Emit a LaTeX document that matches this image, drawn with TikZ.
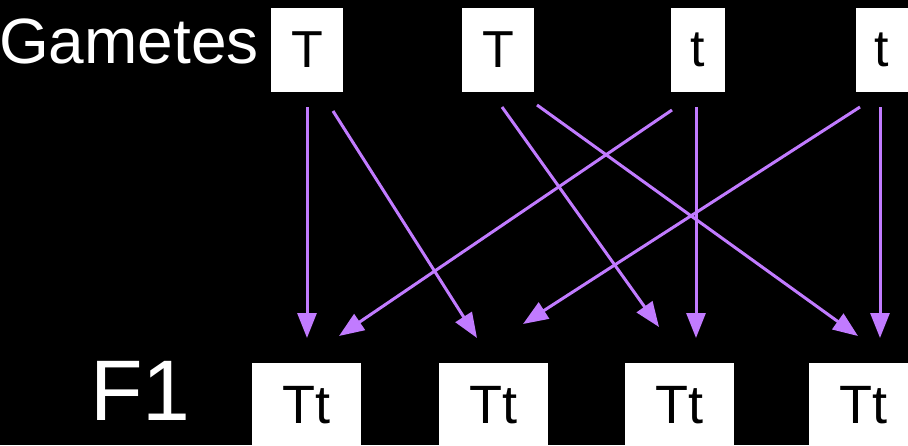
\documentclass[tikz,border=0pt]{standalone}
\usepackage{fontspec}
\setmainfont{Liberation Sans}
\usetikzlibrary{arrows.meta}
\definecolor{arr}{HTML}{C17BFF}
\begin{document}
\begin{tikzpicture}[x=1pt,y=-1pt,
  gbox/.style={fill=white,inner sep=0pt,minimum height=84pt,text=black,font=\fontsize{52}{52}\selectfont},
  fbox/.style={fill=white,inner sep=0pt,minimum width=109pt,minimum height=84pt,text=black,font=\fontsize{54}{54}\selectfont},
  link/.style={draw=arr,line width=3pt,-{Triangle[length=25pt,width=19pt]}},
  lbl/.style={text=white,inner sep=0pt,anchor=base west}]
\fill[black] (0,0) rectangle (908,445);
\useasboundingbox (0,0) rectangle (908,445);
\clip (0,0) rectangle (908,445);
% labels
\node[lbl,font=\fontsize{64}{64}\selectfont] (gam) at (-1,63) {Gametes};
\node[lbl,font=\fontsize{86}{86}\selectfont] (f1) at (90,420) {F1};
% gametes
\node[gbox,minimum width=72pt] (g1) at (307,50) {T};
\node[gbox,minimum width=72pt] (g2) at (498,50) {T};
\node[gbox,minimum width=54pt] (g3) at (698,50) {t};
\node[gbox,minimum width=52pt] (g4) at (882,50) {t};
% offspring
\node[fbox] (o1) at (306.5,405) {Tt};
\node[fbox] (o2) at (493.5,405) {Tt};
\node[fbox] (o3) at (679.5,405) {Tt};
\node[fbox] (o4) at (863.5,405) {Tt};
% connector ends
\coordinate (s1a) at (307,107);
\coordinate (s1b) at (333,111);
\coordinate (s2a) at (502,107);
\coordinate (s2b) at (537,105);
\coordinate (s3a) at (672,110);
\coordinate (s3b) at (696,107);
\coordinate (s4a) at (860,107);
\coordinate (s4b) at (880,107);
\coordinate (e1a) at (307,338);
\coordinate (e1b) at (339,336);
\coordinate (e2a) at (477,338);
\coordinate (e2b) at (523,324);
\coordinate (e3a) at (659,327);
\coordinate (e3b) at (696,338);
\coordinate (e4a) at (858,336);
\coordinate (e4b) at (880,338);
\draw[link] (s1a) -- (e1a);
\draw[link] (s1b) -- (e2a);
\draw[link] (s2a) -- (e3a);
\draw[link] (s2b) -- (e4a);
\draw[link] (s3a) -- (e1b);
\draw[link] (s3b) -- (e3b);
\draw[link] (s4a) -- (e2b);
\draw[link] (s4b) -- (e4b);
\end{tikzpicture}
\end{document}
